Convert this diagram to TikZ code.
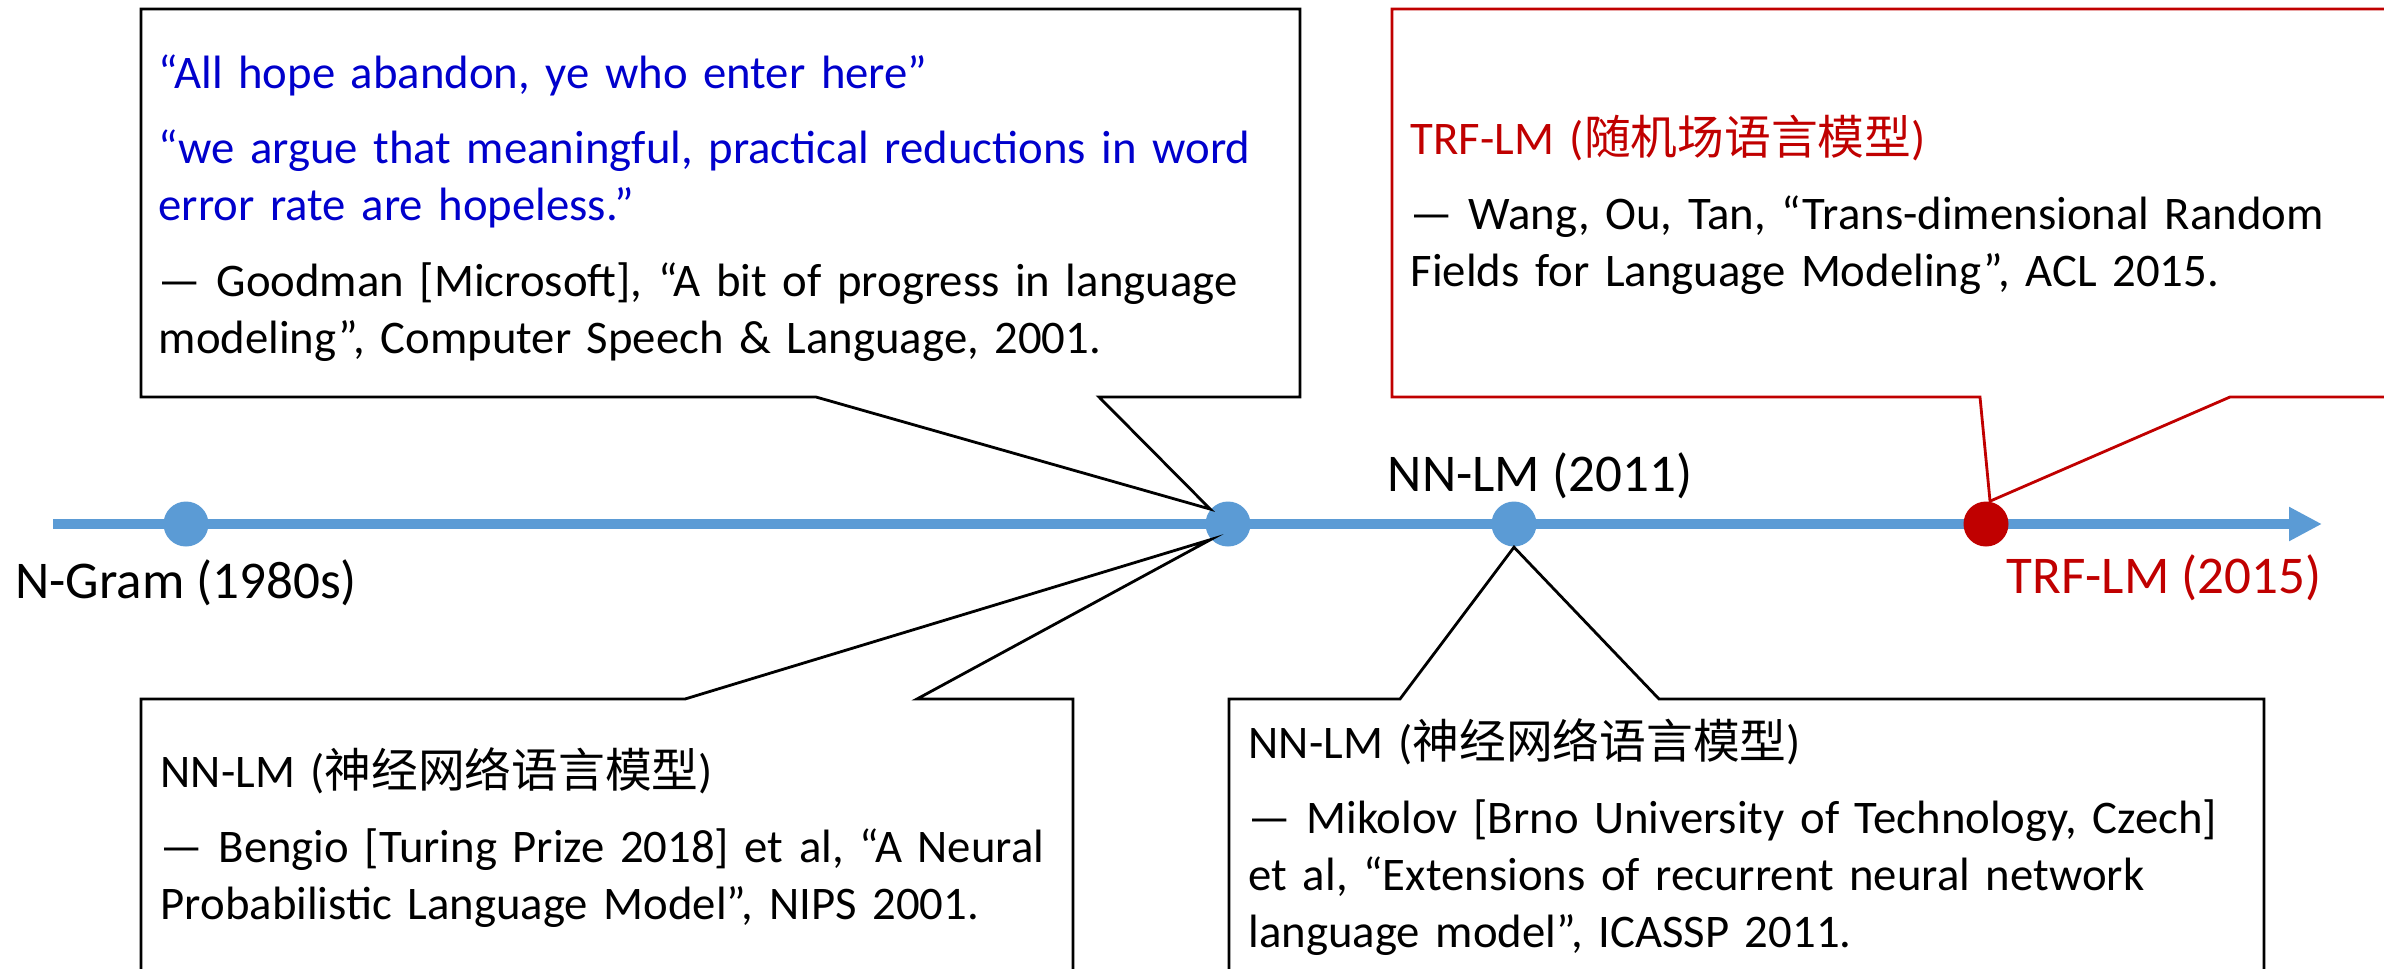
\documentclass[tikz,border=0pt]{standalone}
\usepackage{fontspec}
\setmainfont{Carlito}
\newfontfamily\cjk{Noto Sans CJK SC}
\usetikzlibrary{arrows.meta,positioning}
\definecolor{lineblue}{RGB}{91,155,213}
\definecolor{darkred}{RGB}{192,0,0}
\definecolor{quoteblue}{RGB}{0,0,204}

\begin{document}
\begin{tikzpicture}[
    x=0.1mm, y=-0.1mm,
    node distance=1mm,
    dot/.style={circle, fill=lineblue, minimum size=4.5mm, inner sep=0pt},
    yearlabel/.style={inner sep=0pt, font=\fontsize{15.1}{18}\selectfont},
    ref/.style={inner sep=0pt, anchor=base west, align=left, text width=130mm, font=\fontsize{13.3}{16.2}\selectfont},
    callout/.style={draw, line width=0.8pt},
    timeline/.style={line width=3.1pt, lineblue, -{Triangle[length=3.3mm,width=3.2mm]}}
]
\useasboundingbox (0,0) rectangle (2384,968);
\clip (0,0) rectangle (2384,968);

\coordinate (tstart) at (53,524);
\coordinate (tend) at (2322,524);
\draw[timeline] (tstart) -- (tend);

\node[dot] (d1980) at (186,524) {};
\node[dot] (d2001) at (1228,524) {};
\node[dot] (d2011) at (1514,524) {};
\node[dot, fill=darkred] (d2015) at (1986,524) {};

\node[yearlabel, below=5.1mm of d1980, anchor=base] (ngram) {N-Gram (1980s)};
\node[yearlabel, above=0.9mm of d2011, anchor=base, xshift=2.6mm] (nnlm) {NN-LM (2011)};
\node[yearlabel, text=darkred, below=6.9mm of tend, anchor=base east] (trflm) {TRF-LM (2015)};

\draw[callout] (141,9) -- (1300,9) -- (1300,397) -- (1099,397) -- (d2001.140) -- (816,397) -- (141,397) -- cycle;
\draw[callout, darkred] (1392,9) -- (2420,9) -- (2420,397) -- (2230,397) -- (d2015.80) -- (1980,397) -- (1392,397) -- cycle;
\draw[callout] (141,1000) -- (141,699) -- (685,699) -- (d2001.222) -- (917,699) -- (1073,699) -- (1073,1000);
\draw[callout] (1229,1000) -- (1229,699) -- (1400,699) -- (d2011.south) -- (1659,699) -- (2264,699) -- (2264,1000);

\node[ref] (goodman) at (158,88) {%
{\color{quoteblue}“All hope abandon, ye who enter here”}\\[5.3pt]
{\color{quoteblue}“we argue that meaningful, practical reductions in word\\error rate are hopeless.”}\\[5.3pt]
— Goodman [Microsoft], “A bit of progress in language\\modeling”, Computer Speech \& Language, 2001.};

\node[ref] (wang) at (1410,154) {%
{\color{darkred}TRF-LM ({\cjk 随机场语言模型})}\\[5.3pt]
— Wang, Ou, Tan, “Trans-dimensional Random\\Fields for Language Modeling”, ACL 2015.};

\node[ref] (bengio) at (160,787) {%
NN-LM ({\cjk 神经网络语言模型})\\[5.3pt]
— Bengio [Turing Prize 2018] et al, “A Neural\\Probabilistic Language Model”, NIPS 2001.};

\node[ref] (mikolov) at (1248,758) {%
NN-LM ({\cjk 神经网络语言模型})\\[5.3pt]
— Mikolov [Brno University of Technology, Czech]\\et al, “Extensions of recurrent neural network\\language model”, ICASSP 2011.};
\end{tikzpicture}
\end{document}
